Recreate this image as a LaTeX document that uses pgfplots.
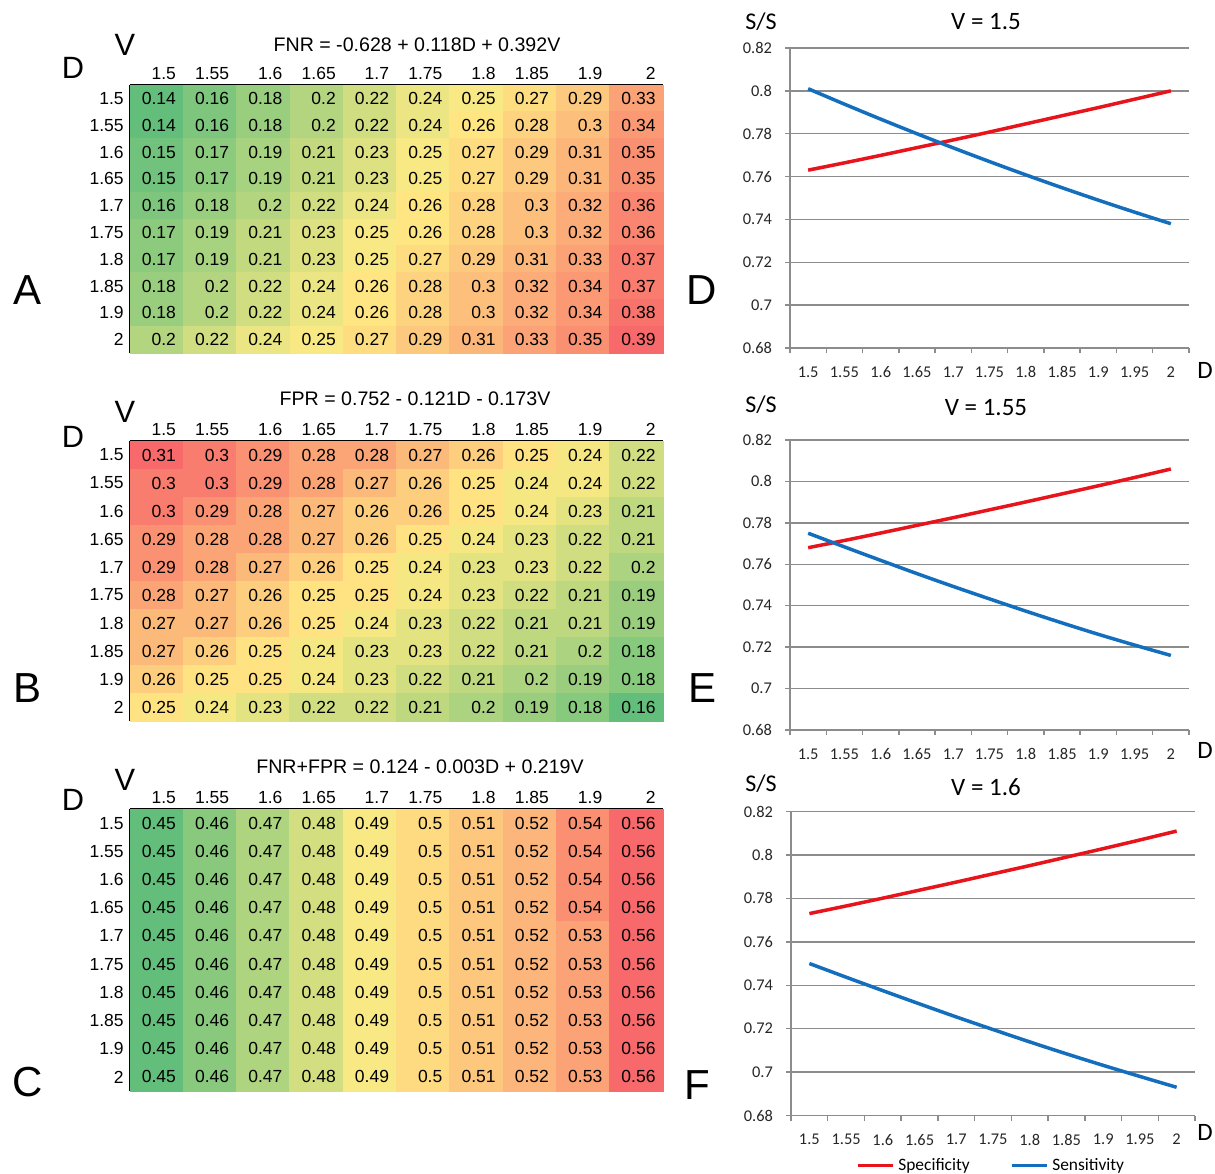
\documentclass[border=0pt]{standalone}
\usepackage{fontspec}
\setmainfont{Liberation Sans}
\newfontfamily\calibri{Carlito}
\usepackage{pgfplots}
\usepackage{pgfplotstable}
\pgfplotsset{compat=1.18}

\definecolor{gridc}{RGB}{140,140,140}
\definecolor{specred}{RGB}{232,20,28}
\definecolor{sensblue}{RGB}{20,110,190}

\newcommand{\hmfont}{\fontsize{8.75}{10}\selectfont}
\newcommand{\ssfont}{\calibri\fontsize{8.2}{9.5}\selectfont}

% heat maps: one value per cell, row by row (D = 1.5 ... 2), V = 1.5 ... 2 across
\pgfplotstableread[row sep=\\]{
z\\
0.14\\ 0.16\\ 0.18\\ 0.2\\ 0.22\\ 0.24\\ 0.25\\ 0.27\\ 0.29\\ 0.33\\
0.14\\ 0.16\\ 0.18\\ 0.2\\ 0.22\\ 0.24\\ 0.26\\ 0.28\\ 0.3\\ 0.34\\
0.15\\ 0.17\\ 0.19\\ 0.21\\ 0.23\\ 0.25\\ 0.27\\ 0.29\\ 0.31\\ 0.35\\
0.15\\ 0.17\\ 0.19\\ 0.21\\ 0.23\\ 0.25\\ 0.27\\ 0.29\\ 0.31\\ 0.35\\
0.16\\ 0.18\\ 0.2\\ 0.22\\ 0.24\\ 0.26\\ 0.28\\ 0.3\\ 0.32\\ 0.36\\
0.17\\ 0.19\\ 0.21\\ 0.23\\ 0.25\\ 0.26\\ 0.28\\ 0.3\\ 0.32\\ 0.36\\
0.17\\ 0.19\\ 0.21\\ 0.23\\ 0.25\\ 0.27\\ 0.29\\ 0.31\\ 0.33\\ 0.37\\
0.18\\ 0.2\\ 0.22\\ 0.24\\ 0.26\\ 0.28\\ 0.3\\ 0.32\\ 0.34\\ 0.37\\
0.18\\ 0.2\\ 0.22\\ 0.24\\ 0.26\\ 0.28\\ 0.3\\ 0.32\\ 0.34\\ 0.38\\
0.2\\ 0.22\\ 0.24\\ 0.25\\ 0.27\\ 0.29\\ 0.31\\ 0.33\\ 0.35\\ 0.39\\
}\fnr

\pgfplotstableread[row sep=\\]{
z\\
0.31\\ 0.3\\ 0.29\\ 0.28\\ 0.28\\ 0.27\\ 0.26\\ 0.25\\ 0.24\\ 0.22\\
0.3\\ 0.3\\ 0.29\\ 0.28\\ 0.27\\ 0.26\\ 0.25\\ 0.24\\ 0.24\\ 0.22\\
0.3\\ 0.29\\ 0.28\\ 0.27\\ 0.26\\ 0.26\\ 0.25\\ 0.24\\ 0.23\\ 0.21\\
0.29\\ 0.28\\ 0.28\\ 0.27\\ 0.26\\ 0.25\\ 0.24\\ 0.23\\ 0.22\\ 0.21\\
0.29\\ 0.28\\ 0.27\\ 0.26\\ 0.25\\ 0.24\\ 0.23\\ 0.23\\ 0.22\\ 0.2\\
0.28\\ 0.27\\ 0.26\\ 0.25\\ 0.25\\ 0.24\\ 0.23\\ 0.22\\ 0.21\\ 0.19\\
0.27\\ 0.27\\ 0.26\\ 0.25\\ 0.24\\ 0.23\\ 0.22\\ 0.21\\ 0.21\\ 0.19\\
0.27\\ 0.26\\ 0.25\\ 0.24\\ 0.23\\ 0.23\\ 0.22\\ 0.21\\ 0.2\\ 0.18\\
0.26\\ 0.25\\ 0.25\\ 0.24\\ 0.23\\ 0.22\\ 0.21\\ 0.2\\ 0.19\\ 0.18\\
0.25\\ 0.24\\ 0.23\\ 0.22\\ 0.22\\ 0.21\\ 0.2\\ 0.19\\ 0.18\\ 0.16\\
}\fpr

\pgfplotstableread[row sep=\\]{
z\\
0.45\\ 0.46\\ 0.47\\ 0.48\\ 0.49\\ 0.5\\ 0.51\\ 0.52\\ 0.54\\ 0.56\\
0.45\\ 0.46\\ 0.47\\ 0.48\\ 0.49\\ 0.5\\ 0.51\\ 0.52\\ 0.54\\ 0.56\\
0.45\\ 0.46\\ 0.47\\ 0.48\\ 0.49\\ 0.5\\ 0.51\\ 0.52\\ 0.54\\ 0.56\\
0.45\\ 0.46\\ 0.47\\ 0.48\\ 0.49\\ 0.5\\ 0.51\\ 0.52\\ 0.54\\ 0.56\\
0.45\\ 0.46\\ 0.47\\ 0.48\\ 0.49\\ 0.5\\ 0.51\\ 0.52\\ 0.53\\ 0.56\\
0.45\\ 0.46\\ 0.47\\ 0.48\\ 0.49\\ 0.5\\ 0.51\\ 0.52\\ 0.53\\ 0.56\\
0.45\\ 0.46\\ 0.47\\ 0.48\\ 0.49\\ 0.5\\ 0.51\\ 0.52\\ 0.53\\ 0.56\\
0.45\\ 0.46\\ 0.47\\ 0.48\\ 0.49\\ 0.5\\ 0.51\\ 0.52\\ 0.53\\ 0.56\\
0.45\\ 0.46\\ 0.47\\ 0.48\\ 0.49\\ 0.5\\ 0.51\\ 0.52\\ 0.53\\ 0.56\\
0.45\\ 0.46\\ 0.47\\ 0.48\\ 0.49\\ 0.5\\ 0.51\\ 0.52\\ 0.53\\ 0.56\\
}\both

\pgfplotsset{
  table/gridTen/.style={x index=0, y index=0, meta=z,
    x expr={mod(\coordindex,10)}, y expr={9-floor(\coordindex/10)}},
  hmAxis/.style={
    scale only axis, width=266.5pt,
    xmin=-0.5, xmax=9.5, ymin=-0.5, ymax=9.5,
    axis x line*=top, axis y line*=left,
    axis line style={-, black, line width=1pt},
    xtick={0,...,9},
    xticklabels={1.5,1.55,1.6,1.65,1.7,1.75,1.8,1.85,1.9,2},
    ytick={0,...,9},
    yticklabels={2,1.9,1.85,1.8,1.75,1.7,1.65,1.6,1.55,1.5},
    major tick length=0pt,
    tick label style={font=\hmfont, inner sep=0pt},
    xticklabel style={anchor=base east, xshift=9.8pt, yshift=3pt},
    yticklabel style={anchor=east, xshift=-3pt},
  },
  hmCells/.style={scatter, only marks, mark=square*, point meta=explicit,
    scatter/use mapped color={draw=mapped color, fill=mapped color}},
  hmVals/.style={only marks, mark=none, point meta=explicit symbolic,
    nodes near coords,
    every node near coord/.append style={anchor=east, inner sep=0pt,
      xshift=9.8pt, font=\hmfont, text=black}},
  ssAxis/.style={
    scale only axis, width=199.5pt,
    xmin=1.475, xmax=2.025, ymin=0.68, ymax=0.82,
    axis x line*=bottom, axis y line*=left,
    axis line style={-, draw=gridc, line width=0.7pt},
    xtick={1.5,1.55,1.6,1.65,1.7,1.75,1.8,1.85,1.9,1.95,2},
    xticklabels={1.5,1.55,1.6,1.65,1.7,1.75,1.8,1.85,1.9,1.95,2},
    minor xtick={1.475,1.525,1.575,1.625,1.675,1.725,1.775,1.825,1.875,1.925,1.975,2.025},
    ytick={0.68,0.7,0.72,0.74,0.76,0.78,0.8,0.82},
    yticklabels={0.68,0.7,0.72,0.74,0.76,0.78,0.8,0.82},
    minor ytick={0.68,0.7,0.72,0.74,0.76,0.78,0.8,0.82},
    major tick length=0pt, minor tick length=2.5pt, tick align=outside,
    minor tick style={draw=gridc, line width=0.7pt},
    ymajorgrids, major grid style={draw=gridc, line width=0.7pt},
    tick label style={font=\ssfont, text=black!85},
    xticklabel style={yshift=-5.7pt},
    yticklabel style={xshift=-5.5pt},
  },
  ssSpec/.style={specred, line width=1.75pt, mark=none, smooth},
  ssSens/.style={sensblue, line width=1.75pt, mark=none, smooth},
}

\begin{document}
\begin{tikzpicture}
\path[use as bounding box] (0,0) rectangle (607.5pt,-586.5pt);

% D: V = 1.5
\begin{axis}[ssAxis, at={(395pt,-24pt)}, anchor=north west, height=150pt]
  \addplot[ssSpec] coordinates {(1.5,0.763) (1.55,0.7664) (1.6,0.7699) (1.65,0.7735) (1.7,0.7771) (1.75,0.7808) (1.8,0.7846) (1.85,0.7884) (1.9,0.7922) (1.95,0.7961) (2,0.800)};
  \addplot[ssSens] coordinates {(1.5,0.801) (1.55,0.7938) (1.6,0.7868) (1.65,0.7800) (1.7,0.7734) (1.75,0.7670) (1.8,0.7608) (1.85,0.7548) (1.9,0.7490) (1.95,0.7434) (2,0.738)};
\end{axis}

% E: V = 1.55
\begin{axis}[ssAxis, at={(395pt,-220pt)}, anchor=north west, height=145pt]
  \addplot[ssSpec] coordinates {(1.5,0.768) (1.55,0.7715) (1.6,0.7751) (1.65,0.7788) (1.7,0.7825) (1.75,0.7863) (1.8,0.7901) (1.85,0.7940) (1.9,0.7979) (1.95,0.8019) (2,0.806)};
  \addplot[ssSens] coordinates {(1.5,0.775) (1.55,0.7684) (1.6,0.7619) (1.65,0.7555) (1.7,0.7493) (1.75,0.7433) (1.8,0.7374) (1.85,0.7317) (1.9,0.7262) (1.95,0.7210) (2,0.716)};
\end{axis}

% F: V = 1.6
\begin{axis}[ssAxis, at={(395.5pt,-405.75pt)}, anchor=north west, height=152pt, width=202pt,
  legend columns=2,
  legend style={at={(axis description cs:0.4975,-0.165)}, anchor=center, draw=none, fill=none,
    font=\calibri\fontsize{8.7}{10}\selectfont, inner sep=0pt,
    /tikz/every even column/.append style={column sep=18pt}},
  legend image code/.code={\draw[#1] (0pt,0pt) -- (17.5pt,0pt);}]
  \addplot[ssSpec] coordinates {(1.5,0.773) (1.55,0.7765) (1.6,0.7801) (1.65,0.7838) (1.7,0.7875) (1.75,0.7913) (1.8,0.7951) (1.85,0.7990) (1.9,0.8029) (1.95,0.8069) (2,0.811)};
  \addlegendentry{Specificity}
  \addplot[ssSens] coordinates {(1.5,0.750) (1.55,0.7437) (1.6,0.7375) (1.65,0.7314) (1.7,0.7254) (1.75,0.7196) (1.8,0.7139) (1.85,0.7084) (1.9,0.7031) (1.95,0.6980) (2,0.693)};
  \addlegendentry{Sensitivity}
\end{axis}

% A: FNR
\begin{axis}[hmAxis, at={(65pt,-42.5pt)}, anchor=north west, height=134pt,
  colormap={hma}{rgb255(0cm)=(99,190,123) rgb255(4.6cm)=(255,235,132) rgb255(10cm)=(248,105,107)}]
  \addplot[hmCells, mark size=6.75pt, mark options={xscale=1.97}] table[gridTen] {\fnr};
  \addplot[hmVals] table[gridTen] {\fnr};
\end{axis}

% B: FPR
\begin{axis}[hmAxis, at={(65pt,-220.5pt)}, anchor=north west, height=140pt,
  colormap={hmb}{rgb255(0cm)=(99,190,123) rgb255(5.7cm)=(255,235,132) rgb255(10cm)=(248,105,107)}]
  \addplot[hmCells, mark size=7.05pt, mark options={xscale=1.89}] table[gridTen] {\fpr};
  \addplot[hmVals] table[gridTen] {\fpr};
\end{axis}

% C: FNR+FPR
\begin{axis}[hmAxis, at={(65pt,-404.5pt)}, anchor=north west, height=141pt,
  colormap={hmc}{rgb255(0cm)=(99,190,123) rgb255(3.8cm)=(255,235,132) rgb255(10cm)=(248,105,107)}]
  \addplot[hmCells, mark size=7.1pt, mark options={xscale=1.88}] table[gridTen] {\both};
  \addplot[hmVals] table[gridTen] {\both};
\end{axis}

% headings and panel letters
\begin{scope}[every node/.style={inner sep=0pt, anchor=center}]
  \node[font=\fontsize{9.8}{11}\selectfont] at (208.5pt,-22.5pt) {FNR = -0.628 + 0.118D + 0.392V};
  \node[font=\fontsize{9.8}{11}\selectfont] at (207.5pt,-199.5pt) {FPR = 0.752 - 0.121D - 0.173V};
  \node[font=\fontsize{9.8}{11}\selectfont] at (210pt,-383.5pt) {FNR+FPR = 0.124 - 0.003D + 0.219V};
  \foreach \y/\d in {-22.5/-34, -206/-218.5, -390/-400} {
    \node[font=\fontsize{15.4}{17}\selectfont] at (62.5pt,\y pt) {V};
    \node[font=\fontsize{15.4}{17}\selectfont] at (36.5pt,\d pt) {D};
  }
  \node[font=\fontsize{21}{24}\selectfont] at (14pt,-145pt) {A};
  \node[font=\fontsize{21}{24}\selectfont] at (14pt,-344pt) {B};
  \node[font=\fontsize{21}{24}\selectfont] at (14pt,-541pt) {C};
  \node[font=\fontsize{21}{24}\selectfont] at (351pt,-145pt) {D};
  \node[font=\fontsize{21}{24}\selectfont] at (351pt,-344pt) {E};
  \node[font=\fontsize{21}{24}\selectfont] at (348.5pt,-542.5pt) {F};
  \foreach \t/\y/\v in {-11/-11/1.5, -202.5/-204/1.55, -392/-393.5/1.6} {
    \node[font=\calibri\fontsize{12}{14}\selectfont] at (380.5pt,\t pt) {S/S};
    \node[font=\calibri\fontsize{12.5}{14}\selectfont] at (493pt,\y pt) {V = \v};
  }
  \foreach \y in {-185, -375, -566} {
    \node[font=\calibri\fontsize{12.5}{14}\selectfont] at (602.5pt,\y pt) {D};
  }
\end{scope}
\end{tikzpicture}
\end{document}
